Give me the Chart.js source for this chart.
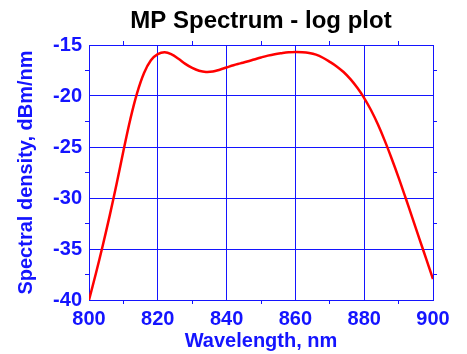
<!DOCTYPE html>
<html>
<head>
    <title>MP Spectrum - log plot</title>
    <script src="https://cdn.jsdelivr.net/npm/chart.js"></script>
    <style>
        body { margin: 0; background: #fff; }
    </style>
</head>
<body>

<canvas id="specChart" width="467" height="354"></canvas>

<script>
// wavelength (nm) and spectral density (dBm/nm)
const wavelengths = [800, 802, 804, 806, 808, 810, 812, 814, 816, 818, 820, 822, 824, 826, 828, 830,
    832, 834, 836, 838, 840, 842, 844, 846, 848, 850, 852, 854, 856, 858, 860, 862, 864, 866, 868, 870,
    872, 874, 876, 878, 880, 882, 884, 886, 888, 890, 892, 894, 896, 898, 900];
const density = [-40, -37.4, -34.65, -31.75, -28.65, -25.4, -22.3, -19.7, -17.75, -16.5, -15.9, -15.72, -15.92, -16.35, -16.85, -17.25,
    -17.52, -17.64, -17.6, -17.42, -17.2, -16.98, -16.8, -16.62, -16.42, -16.22, -16.04, -15.9, -15.8, -15.72, -15.68, -15.7, -15.78, -15.95, -16.25, -16.65,
    -17.1, -17.65, -18.35, -19.2, -20.2, -21.4, -22.8, -24.4, -26.15, -28.0, -29.95, -31.95, -33.95, -35.95, -37.95];

const xMajorTicks = [800, 820, 840, 860, 880, 900];
const yMajorTicks = [-40, -35, -30, -25, -20, -15];

const BLUE = '#1414ff';
const labelFont = { family: 'Liberation Sans, Arial, sans-serif', size: 20, weight: 'bold' };

const isMajorX = v => xMajorTicks.includes(v);
const isMajorY = v => yMajorTicks.includes(v);

function fixed(size, dim) {
    return function(scale) { scale[dim] = size; };
}

const points = wavelengths.map((w, i) => ({ x: w, y: density[i] }));

const ctx = document.getElementById('specChart').getContext('2d');
new Chart(ctx, {
    type: 'scatter',
    data: {
        datasets: [{
            data: points,
            showLine: true,
            borderColor: '#ff0000',
            backgroundColor: '#ff0000',
            borderWidth: 2.5,
            borderJoinStyle: 'round',
            pointRadius: 0,
            tension: 0.4
        }]
    },
    options: {
        responsive: false,
        animation: false,
        devicePixelRatio: 1,
        layout: { padding: 0 },
        plugins: {
            legend: { display: false },
            tooltip: { enabled: false }
        },
        scales: {
            x: {
                type: 'linear',
                position: 'bottom',
                min: 800, max: 900,
                afterFit: fixed(54, 'height'),
                border: { display: true, color: BLUE, width: 1 },
                grid: {
                    color: c => isMajorX(c.tick.value) ? BLUE : 'rgba(0,0,0,0)',
                    tickColor: c => isMajorX(c.tick.value) ? 'rgba(0,0,0,0)' : BLUE,
                    tickLength: 4
                },
                ticks: {
                    stepSize: 10,
                    autoSkip: false,
                    maxRotation: 0,
                    padding: 3,
                    color: BLUE,
                    font: labelFont,
                    callback: v => isMajorX(v) ? String(v) : ''
                },
                title: {
                    display: true,
                    text: 'Wavelength, nm',
                    color: BLUE,
                    font: labelFont,
                    padding: { top: 0, bottom: 1 }
                }
            },
            x2: {
                type: 'linear',
                position: 'top',
                min: 800, max: 900,
                afterFit: fixed(45, 'height'),
                border: { display: true, color: BLUE, width: 1 },
                grid: {
                    drawOnChartArea: false,
                    tickColor: c => isMajorX(c.tick.value) ? 'rgba(0,0,0,0)' : BLUE,
                    tickLength: 4
                },
                ticks: { stepSize: 10, autoSkip: false, display: false },
                title: {
                    display: true,
                    text: 'MP Spectrum - log plot',
                    color: '#000',
                    font: { family: 'Liberation Sans, Arial, sans-serif', size: 24, weight: 'bold' },
                    padding: { top: 7, bottom: 0 }
                }
            },
            y: {
                type: 'linear',
                position: 'left',
                min: -40, max: -15,
                afterFit: fixed(89, 'width'),
                border: { display: true, color: BLUE, width: 1 },
                grid: {
                    color: c => isMajorY(c.tick.value) ? BLUE : 'rgba(0,0,0,0)',
                    tickColor: c => isMajorY(c.tick.value) ? 'rgba(0,0,0,0)' : BLUE,
                    tickLength: 4
                },
                ticks: {
                    stepSize: 2.5,
                    autoSkip: false,
                    padding: 3,
                    color: BLUE,
                    font: labelFont,
                    callback: v => isMajorY(v) ? String(v) : ''
                },
                title: {
                    display: true,
                    text: 'Spectral density, dBm/nm',
                    color: BLUE,
                    font: labelFont,
                    padding: { top: 14, bottom: 0 }
                }
            },
            y2: {
                type: 'linear',
                position: 'right',
                min: -40, max: -15,
                afterFit: fixed(34, 'width'),
                border: { display: true, color: BLUE, width: 1 },
                grid: {
                    drawOnChartArea: false,
                    tickColor: c => isMajorY(c.tick.value) ? 'rgba(0,0,0,0)' : BLUE,
                    tickLength: 4
                },
                ticks: { stepSize: 2.5, autoSkip: false, display: false }
            }
        }
    }
});
</script>

</body>
</html>
